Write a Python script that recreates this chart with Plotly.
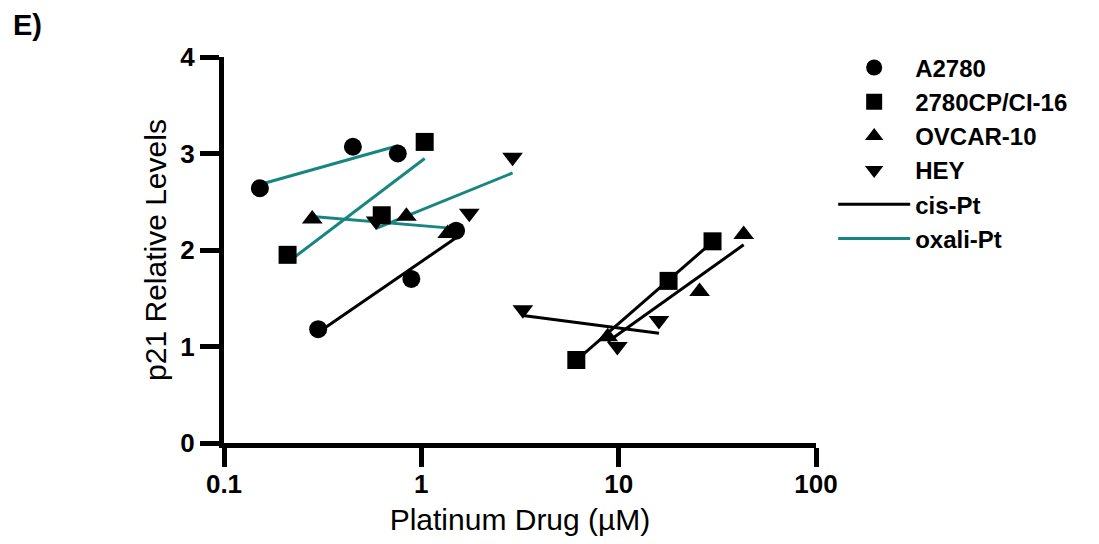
import numpy as np
import plotly.graph_objects as go

# ---- data ----
cell_lines = ["A2780", "2780CP/CI-16", "OVCAR-10", "HEY"]
symbols = ["circle", "square", "triangle-up", "triangle-down"]

a2780_cis_x = [0.30, 0.89, 1.5]
a2780_cis_y = [1.18, 1.70, 2.20]
a2780_oxa_x = [0.152, 0.45, 0.76]
a2780_oxa_y = [2.64, 3.07, 3.00]

cp_cis_x = [6.1, 17.9, 29.9]
cp_cis_y = [0.86, 1.68, 2.09]
cp_oxa_x = [0.21, 0.63, 1.04]
cp_oxa_y = [1.95, 2.36, 3.12]

ovcar_cis_x = [8.8, 25.7, 43.0]
ovcar_cis_y = [1.10, 1.57, 2.16]
ovcar_oxa_x = [0.28, 0.84, 1.36]
ovcar_oxa_y = [2.32, 2.35, 2.17]

hey_cis_x = [3.27, 9.85, 16.0]
hey_cis_y = [1.38, 1.00, 1.27]
hey_oxa_x = [0.59, 1.75, 2.9]
hey_oxa_y = [2.30, 2.38, 2.96]

drugs = ["cis-Pt", "oxali-Pt"]
x_tick_vals = [0.1, 1, 10, 100]
x_tick_text = ["0.1", "1", "10", "100"]
y_tick_vals = [0, 1, 2, 3, 4]

BLACK = "#000000"
TEAL = "#178580"
FONT = "Liberation Sans, Arial, sans-serif"

groups = [
    (a2780_cis_x, a2780_cis_y, 0, BLACK),
    (a2780_oxa_x, a2780_oxa_y, 0, TEAL),
    (cp_cis_x, cp_cis_y, 1, BLACK),
    (cp_oxa_x, cp_oxa_y, 1, TEAL),
    (ovcar_cis_x, ovcar_cis_y, 2, BLACK),
    (ovcar_oxa_x, ovcar_oxa_y, 2, TEAL),
    (hey_cis_x, hey_cis_y, 3, BLACK),
    (hey_oxa_x, hey_oxa_y, 3, TEAL),
]

fig = go.Figure()

# regression lines (y vs log10 x), spanning each group's x range
for gx, gy, idx, col in groups:
    lx = np.log10(gx)
    slope, icpt = np.polyfit(lx, gy, 1)
    xs = [min(gx), max(gx)]
    ys = [icpt + slope * np.log10(v) for v in xs]
    fig.add_trace(go.Scatter(x=xs, y=ys, mode="lines",
                             line=dict(color=col, width=3),
                             showlegend=False, hoverinfo="skip"))

# markers (draw order: triangles, squares, circles on top)
for order in [2, 3, 1, 0]:
    for gx, gy, idx, col in groups:
        if idx != order:
            continue
        fig.add_trace(go.Scatter(x=gx, y=gy, mode="markers",
                                 marker=dict(symbol=symbols[idx], size=18,
                                             color=BLACK, line=dict(width=0)),
                                 showlegend=False))

# legend entries
for name, sym in zip(cell_lines, symbols):
    fig.add_trace(go.Scatter(x=[None], y=[None], mode="markers", name=name,
                             marker=dict(symbol=sym, size=17, color=BLACK)))
for name, col in zip(drugs, [BLACK, TEAL]):
    fig.add_trace(go.Scatter(x=[None], y=[None], mode="lines", name=name,
                             line=dict(color=col, width=3)))

# the page body has an 8px margin, so the figure is offset by 8px
fig.update_layout(
    width=1091, height=536,
    margin=dict(l=216, r=283, t=49, b=97),
    paper_bgcolor="white", plot_bgcolor="white",
    font=dict(family=FONT, color="black"),
    legend=dict(x=1.029, y=1.03, xanchor="left", yanchor="top",
                font=dict(family=FONT, size=24, weight="bold", color="black"),
                tracegroupgap=0, itemwidth=72, bgcolor="rgba(0,0,0,0)"),
    xaxis=dict(type="log", range=[-1, 2], tickvals=x_tick_vals, ticktext=x_tick_text,
               showgrid=False, zeroline=False, showline=True, linecolor="black",
               linewidth=5, ticks="outside", ticklen=19, tickwidth=5, tickcolor="black",
               ticklabelstandoff=-5,
               tickfont=dict(family=FONT, size=26, weight="bold"),
               title=dict(text="Platinum Drug (µM)", standoff=12,
                          font=dict(family=FONT, size=30))),
    yaxis=dict(range=[0, 4], tickvals=y_tick_vals, showgrid=False, zeroline=False,
               showline=True, linecolor="black", linewidth=5, ticks="outside",
               ticklen=19, tickwidth=5, tickcolor="black",
               tickfont=dict(family=FONT, size=26, weight="bold"),
               title=dict(text="p21 Relative Levels", standoff=6,
                          font=dict(family=FONT, size=30))),
    annotations=[dict(text="<b>E)</b>", xref="paper", yref="paper",
                      x=-0.36, y=1.13, xanchor="left", yanchor="top",
                      showarrow=False, font=dict(family=FONT, size=29, color="black"))],
)

fig.write_html("out.html")
